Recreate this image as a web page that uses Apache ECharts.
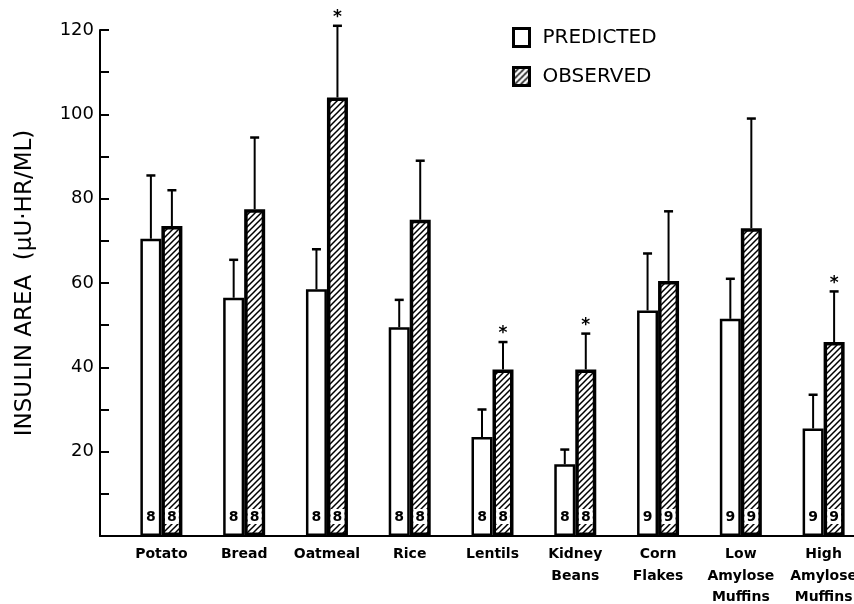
<!DOCTYPE html>
<html>
<head>
<meta charset="utf-8">
<script src="https://cdn.jsdelivr.net/npm/echarts@6/dist/echarts.min.js"></script>
<style>
html,body{margin:0;padding:0;background:#fff;}
#chart{width:854px;height:604px;}
</style>
</head>
<body>
<div id="chart"></div>
<script>
// ---- data ----
const categories = ['Potato', 'Bread', 'Oatmeal', 'Rice', 'Lentils', 'Kidney\nBeans', 'Corn\nFlakes', 'Low\nAmylose\nMuffins', 'High\nAmylose\nMuffins'];
const predicted = [70.5, 56.5, 58.5, 49.5, 23.5, 17, 53.5, 51.5, 25.5];
const predictedSE = [15, 9, 9.5, 6.5, 6.5, 3.5, 13.5, 9.5, 8];
const observed = [73.5, 77.5, 104, 75, 39.5, 39.5, 60.5, 73, 46];
const observedSE = [8.5, 17, 17, 14, 6.5, 8.5, 16.5, 26, 12];
const subjects = [8, 8, 8, 8, 8, 8, 9, 9, 9];
const significant = [false, false, true, false, true, true, false, false, true];
const yMin = 0, yMax = 120, yInterval = 20;
const seriesNames = ['PREDICTED', 'OBSERVED'];

// ---- styling ----
const FONT = 'DejaVu Sans';
const BAR_W = 21;

function makeHatch() {
  const c = document.createElement('canvas');
  c.width = 6; c.height = 6;
  const ctx = c.getContext('2d');
  ctx.fillStyle = '#fff';
  ctx.fillRect(0, 0, 6, 6);
  ctx.strokeStyle = '#000';
  ctx.lineWidth = 1.5;
  ctx.beginPath();
  ctx.moveTo(-1, 7); ctx.lineTo(7, -1);
  ctx.moveTo(-4, 4); ctx.lineTo(4, -4);
  ctx.moveTo(2, 10); ctx.lineTo(10, 2);
  ctx.stroke();
  return c;
}
const hatch = { image: makeHatch(), repeat: 'repeat' };

function errRender(offset, withStar) {
  return function (params, api) {
    const i = api.value(0);
    const p0 = api.coord([i, api.value(1)]);
    const p1 = api.coord([i, api.value(2)]);
    const x = p0[0] + offset;
    const children = [
      { type: 'line', shape: { x1: x, y1: p0[1], x2: x, y2: p1[1] }, style: { stroke: '#000', lineWidth: 2 } },
      { type: 'line', shape: { x1: x - 4.5, y1: p1[1], x2: x + 4.5, y2: p1[1] }, style: { stroke: '#000', lineWidth: 2.5 } }
    ];
    if (withStar && significant[params.dataIndex]) {
      children.push({ type: 'text', style: { text: '*', x: x, y: p1[1] - 8, align: 'center', verticalAlign: 'middle', font: 'bold 17px ' + FONT, fill: '#000' } });
    }
    return { type: 'group', children: children };
  };
}

const chart = echarts.init(document.getElementById('chart'), null, { renderer: 'canvas' });
chart.setOption({
  backgroundColor: '#fff',
  animation: false,
  textStyle: { fontFamily: FONT, color: '#000' },
  legend: {
    data: seriesNames,
    orient: 'vertical',
    left: 507,
    top: 22,
    icon: 'rect',
    itemWidth: 16,
    itemHeight: 18,
    itemGap: 18,
    itemStyle: { borderColor: '#000', borderWidth: 3 },
    textStyle: { fontFamily: FONT, fontSize: 20, lineHeight: 20, color: '#000', padding: [0, 0, 0, 8] },
    selectedMode: false
  },
  grid: [
    { left: 100, right: 0, top: 30, bottom: 68, outerBoundsMode: 'none', containLabel: false },
    { left: 120, right: -11, top: 30, bottom: 68, outerBoundsMode: 'none', containLabel: false }
  ],
  xAxis: [
    {
      gridIndex: 0, type: 'value', min: 0, max: 1,
      axisLine: { show: true, onZero: false, lineStyle: { color: '#000', width: 2 } },
      axisTick: { show: false }, axisLabel: { show: false }, splitLine: { show: false }
    },
    {
      gridIndex: 1, type: 'category', data: categories,
      axisLine: { show: false }, axisTick: { show: false }, splitLine: { show: false },
      axisLabel: { interval: 0, margin: 8, fontFamily: FONT, fontSize: 14, fontWeight: 'bold', color: '#000', lineHeight: 21.5, align: 'center' }
    }
  ],
  yAxis: [
    {
      gridIndex: 0, type: 'value', min: yMin, max: yMax, interval: yInterval,
      name: 'INSULIN AREA  (\u03BCU\u00B7HR/ML)',
      nameLocation: 'middle', nameGap: 63,
      nameTextStyle: { fontFamily: FONT, fontSize: 23, color: '#000' },
      axisLine: { show: true, onZero: false, lineStyle: { color: '#000', width: 2 } },
      axisTick: { show: true, inside: true, length: 9, lineStyle: { color: '#000', width: 2 } },
      minorTick: { show: true, splitNumber: 2, length: 9, lineStyle: { color: '#000', width: 2 } },
      axisLabel: { margin: 6, fontFamily: FONT, fontSize: 18, color: '#000', formatter: v => v === 0 ? '' : String(v) },
      splitLine: { show: false }
    },
    {
      gridIndex: 1, type: 'value', min: yMin, max: yMax, interval: yInterval, show: false,
      splitLine: { show: false }
    }
  ],
  series: [
    {
      name: seriesNames[0], type: 'bar', xAxisIndex: 1, yAxisIndex: 1,
      data: predicted, barWidth: BAR_W, barGap: '0%',
      itemStyle: { color: '#fff', borderColor: '#000', borderWidth: 2.5 },
      label: { show: true, position: 'insideBottom', distance: 12, formatter: p => String(subjects[p.dataIndex]), fontFamily: FONT, fontSize: 14, fontWeight: 'bold', color: '#000' },
      z: 2
    },
    {
      name: seriesNames[1], type: 'bar', xAxisIndex: 1, yAxisIndex: 1,
      data: observed, barWidth: BAR_W, barGap: '0%',
      itemStyle: { color: hatch, borderColor: '#000', borderWidth: 3.5 },
      label: { show: true, position: 'insideBottom', distance: 12, formatter: p => String(subjects[p.dataIndex]), fontFamily: FONT, fontSize: 14, fontWeight: 'bold', color: '#000', backgroundColor: '#fff', padding: [1, 2, 0, 2] },
      z: 3
    },
    {
      name: 'predErr', type: 'custom', xAxisIndex: 1, yAxisIndex: 1,
      renderItem: errRender(-BAR_W / 2, false),
      data: predicted.map((v, i) => [i, v, v + predictedSE[i]]),
      z: 4
    },
    {
      name: 'obsErr', type: 'custom', xAxisIndex: 1, yAxisIndex: 1,
      renderItem: errRender(BAR_W / 2, true),
      data: observed.map((v, i) => [i, v, v + observedSE[i]]),
      z: 4
    }
  ]
});
</script>
</body>
</html>
